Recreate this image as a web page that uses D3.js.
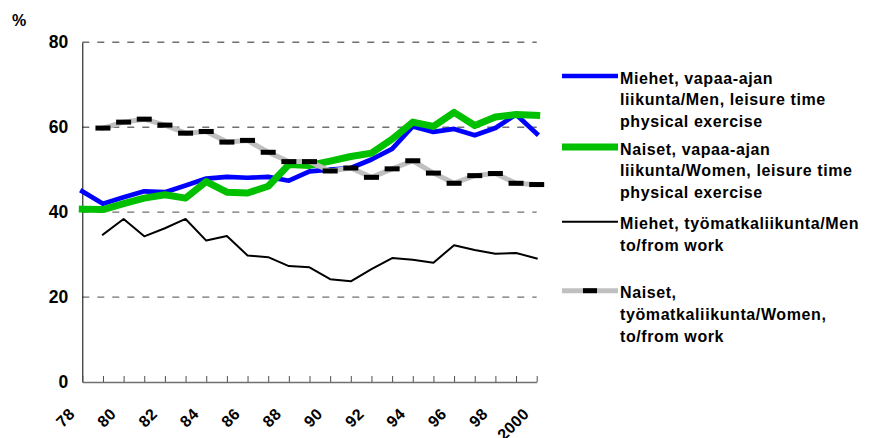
<!DOCTYPE html>
<html>
<head>
<meta charset="utf-8">
<script src="https://cdn.jsdelivr.net/npm/d3@7"></script>
<style>
  body { margin: 0; background: #fff; }
  text { font-family: "Liberation Sans", Arial, sans-serif; font-weight: bold; fill: #000; }
</style>
</head>
<body>
<div id="container"></div>
<script>
/* DATA */
const years = d3.range(1978, 2001);
const tickLabels = ["78", "80", "82", "84", "86", "88", "90", "92", "94", "96", "98", "2000"];
const yTicks = [0, 20, 40, 60, 80];

const menLeisure = [44.9, 42.0, 43.5, 44.9, 44.7, 46.3, 47.9, 48.3, 48.1, 48.3, 47.4, 49.6,
  50.0, 50.4, 52.4, 54.9, 60.2, 58.9, 59.6, 58.1, 59.8, 63.0, 58.5];
const womenLeisure = [40.7, 40.6, 42.0, 43.3, 44.1, 43.3, 47.2, 44.7, 44.5, 46.1, 51.2, 51.0,
  52.0, 53.1, 53.9, 57.2, 61.2, 60.2, 63.5, 60.4, 62.4, 63.0, 62.8];
const menCommute = [null, 34.7, 38.4, 34.3, 36.2, 38.4, 33.3, 34.4, 29.8, 29.4, 27.3, 27.0,
  24.2, 23.7, 26.6, 29.2, 28.8, 28.1, 32.2, 31.1, 30.2, 30.4, 29.1];
const womenCommute = [null, 59.8, 61.2, 61.9, 60.5, 58.6, 59.0, 56.5, 56.9, 54.1, 51.9, 51.9,
  49.7, 50.4, 48.2, 50.2, 52.1, 49.2, 46.8, 48.6, 49.1, 46.8, 46.5];

const legendLabels = [
  ["Miehet, vapaa-ajan", "liikunta/Men, leisure time", "physical exercise"],
  ["Naiset, vapaa-ajan", "liikunta/Women, leisure time", "physical exercise"],
  ["Miehet, työmatkaliikunta/Men", "to/from work"],
  ["Naiset,", "työmatkaliikunta/Women,", "to/from work"]
];

/* CONSTANTS */
const width = 880;
const height = 438;
const plot = { left: 82.3, right: 536.7, top: 42.3, bottom: 382 };

const series = [
  { values: menLeisure, color: "#0000ff", width: 4.7 },
  { values: womenLeisure, color: "#00c000", width: 7 },
  { values: menCommute, color: "#000000", width: 2 },
  { values: womenCommute, color: "#c0c0c0", width: 5, markers: true }
];

/* SCALES */
const xScale = d3.scalePoint()
  .domain(years)
  .range([plot.left, plot.right]);

const yScale = d3.scaleLinear()
  .domain([0, 80])
  .range([plot.bottom, plot.top]);

/* HTML ELEMENTS */
const svg = d3.select("#container")
  .append("svg")
  .attr("width", width)
  .attr("height", height);

// gridlines
svg.selectAll(".grid")
  .data(yTicks.filter(d => d > 0))
  .join("line")
  .attr("class", "grid")
  .attr("x1", plot.left)
  .attr("x2", plot.right)
  .attr("y1", d => yScale(d))
  .attr("y2", d => yScale(d))
  .attr("stroke", "#707070")
  .attr("stroke-width", 1.4)
  .attr("stroke-dasharray", "7,8");

// y axis
const yAxis = d3.axisLeft(yScale)
  .tickValues(yTicks)
  .tickSize(0)
  .tickPadding(14);
svg.append("g")
  .attr("transform", `translate(${plot.left},0)`)
  .call(yAxis)
  .call(g => g.select(".domain").attr("stroke", "#000"))
  .selectAll("text")
  .attr("font-size", 17.5)
  .attr("font-family", null);

// x axis, ticks pointing up into the plot
const labelFor = d => (d % 2 === 0 ? tickLabels[(d - 1978) / 2] : "");
const xAxis = d3.axisBottom(xScale)
  .tickValues(years)
  .tickSizeInner(-6)
  .tickSizeOuter(0)
  .tickFormat(labelFor);
svg.append("g")
  .attr("transform", `translate(0,${plot.bottom})`)
  .call(xAxis)
  .call(g => g.select(".domain").attr("stroke", "#707070").attr("stroke-width", 1.3))
  .call(g => g.selectAll(".tick line").attr("stroke", "#505050"))
  .selectAll("text")
  .attr("font-size", 16)
  .attr("letter-spacing", 0.4)
  .attr("font-family", null)
  .attr("x", 0)
  .attr("y", 0)
  .attr("dy", 0)
  .attr("text-anchor", "end")
  .attr("transform", "translate(-7,33) rotate(-45)");

// "%" label
svg.append("text")
  .attr("x", 12)
  .attr("y", 26)
  .attr("font-size", 16)
  .text("%");

// lines
const line = d3.line()
  .defined(d => d != null)
  .x((d, i) => xScale(years[i]))
  .y(d => yScale(d));

series.forEach(s => {
  svg.append("path")
    .datum(s.values)
    .attr("fill", "none")
    .attr("stroke", s.color)
    .attr("stroke-width", s.width)
    .attr("stroke-linejoin", "round")
    .attr("stroke-linecap", "square")
    .attr("d", line);

  if (s.markers) {
    svg.selectAll(".marker")
      .data(s.values.map((v, i) => ({ year: years[i], v })).filter(d => d.v != null))
      .join("rect")
      .attr("class", "marker")
      .attr("x", d => xScale(d.year) - 7.5)
      .attr("y", d => yScale(d.v) - 2.5)
      .attr("width", 15)
      .attr("height", 5)
      .attr("fill", "#000");
  }
});

// legend
const legendY = [76, 147, 221.7, 290.7];
const lineGap = 21.7;
const legend = svg.append("g");

series.forEach((s, k) => {
  const g = legend.append("g").attr("transform", `translate(0,${legendY[k]})`);
  g.append("line")
    .attr("x1", 562)
    .attr("x2", 618)
    .attr("stroke", s.color)
    .attr("stroke-width", s.width);
  if (s.markers) {
    g.append("rect")
      .attr("x", 583)
      .attr("y", -2.5)
      .attr("width", 14)
      .attr("height", 5)
      .attr("fill", "#000");
  }
  g.selectAll("text")
    .data(legendLabels[k])
    .join("text")
    .attr("x", 620)
    .attr("y", (d, i) => 7.5 + i * lineGap)
    .attr("font-size", 16)
    .attr("letter-spacing", 0.6)
    .text(d => d);
});
</script>
</body>
</html>
